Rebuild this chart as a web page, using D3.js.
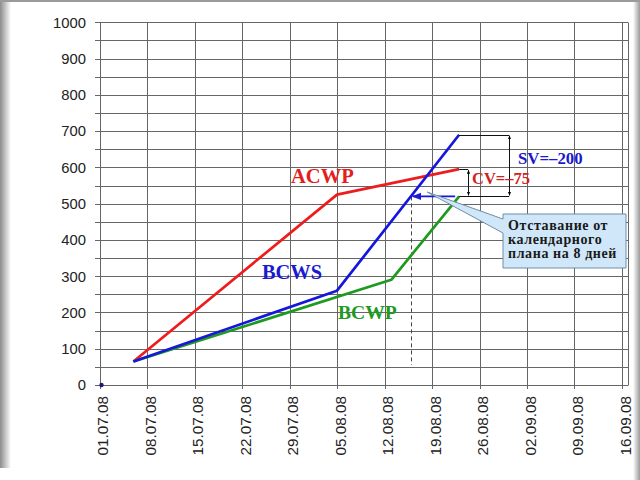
<!DOCTYPE html>
<html><head><meta charset="utf-8">
<script src="https://cdn.jsdelivr.net/npm/d3@7"></script>
<style>body{margin:0;background:#fff}svg{display:block}</style>
</head><body>
<svg id="c" width="640" height="480"></svg>
<script>
// ---- data ----
const tickLabels = ["01.07.08","08.07.08","15.07.08","22.07.08","29.07.08","05.08.08","12.08.08","19.08.08","26.08.08","02.09.08","09.09.08","16.09.08"];
const yTickValues = [0,100,200,300,400,500,600,700,800,900,1000];
const yMinorValues = [50,150,250,350,450,550,650,750,850,950];
const acwpDates = ["06.07.08","05.08.08","23.08.08"];
const acwpValues = [65,525,595];
const bcwsDates = ["06.07.08","05.08.08","23.08.08"];
const bcwsValues = [65,260,690];
const bcwpDates = ["06.07.08","13.08.08","23.08.08"];
const bcwpValues = [65,290,520];
const markerDates = ["01.07.08"];
const markerValues = [0];
const seriesNames = ["ACWP","BCWS","BCWP"];
const svLabel = "SV=\u2013200";
const cvLabel = "CV=\u201375";
const calloutLines = ["Отставание от","календарного","плана на 8 дней"];

// ---- scales ----
const parse = d3.timeParse("%d.%m.%y");
const x = d3.scaleTime().domain([parse("01.07.08"), parse("16.09.08")]).range([99.5, 622]);
const y = d3.scaleLinear().domain([0,1000]).range([385, 22.3]);
const svg = d3.select("#c");
const crisp = v => Math.round(v) + 0.5;

// frame decoration
const defs = svg.append("defs");
const lg = defs.append("linearGradient").attr("id","lg").attr("x1","0").attr("x2","1");
lg.append("stop").attr("offset","0").attr("stop-color","#8c8c8c");
lg.append("stop").attr("offset","1").attr("stop-color","#ffffff");
const rg = defs.append("linearGradient").attr("id","rg").attr("x1","0").attr("x2","1");
rg.append("stop").attr("offset","0").attr("stop-color","#ffffff");
rg.append("stop").attr("offset","1").attr("stop-color","#9a9a9a");
svg.append("rect").attr("x",0).attr("y",0).attr("width",11).attr("height",468).attr("fill","url(#lg)");
svg.append("rect").attr("x",633).attr("y",0).attr("width",7).attr("height",480).attr("fill","url(#rg)");
svg.append("rect").attr("x",0).attr("y",0).attr("width",640).attr("height",2).attr("fill","#9a9a9a");

const mk = (id, color, size) => {
  defs.append("marker").attr("id",id).attr("viewBox","0 0 10 10").attr("refX",9).attr("refY",5)
    .attr("markerWidth",size).attr("markerHeight",size).attr("orient","auto-start-reverse")
    .append("path").attr("d","M0,1 L10,5 L0,9 Z").attr("fill",color);
};
mk("ab","#000",4);
mk("abl","#1a1adc",6);

// ---- grid ----
const g = svg.append("g");
const dates = tickLabels.map(parse);
g.selectAll("line.v").data(dates).join("line")
  .attr("x1",d=>crisp(x(d))).attr("x2",d=>crisp(x(d)))
  .attr("y1",y(1000)).attr("y2",389).attr("stroke","#666").attr("stroke-width",1);
g.selectAll("line.h").data(yTickValues.concat(yMinorValues)).join("line")
  .attr("x1",95).attr("x2",628).attr("y1",d=>crisp(y(d))).attr("y2",d=>crisp(y(d)))
  .attr("stroke","#666").attr("stroke-width",1);
// right border
g.append("line").attr("x1",628.5).attr("x2",628.5).attr("y1",crisp(y(1000))).attr("y2",crisp(y(0)))
  .attr("stroke","#666");

// y labels
svg.append("g").selectAll("text").data(yTickValues).join("text")
  .attr("x",86).attr("y",d=>y(d)).attr("dy","0.36em").attr("text-anchor","end")
  .attr("font-family","'Liberation Sans', Arial, sans-serif").attr("font-size",14.8).attr("fill","#222")
  .text(d=>d);
// x labels
svg.append("g").selectAll("text").data(tickLabels).join("text")
  .attr("transform",d=>`translate(${x(parse(d))+3},396) rotate(-90)`)
  .attr("text-anchor","end").attr("dy","0.36em")
  .attr("font-family","'Liberation Sans', Arial, sans-serif").attr("font-size",15.3).attr("fill","#222")
  .text(d=>d);

// ---- annotations under lines ----
const target = bcwpValues[bcwpValues.length-1];
const t0 = parse(bcwsDates[1]), t1 = parse(bcwsDates[2]);
const f = (target - bcwsValues[1])/(bcwsValues[2]-bcwsValues[1]);
const xMeet = x(new Date(+t0 + f*(t1 - t0)));
svg.append("line").attr("x1",crisp(xMeet)).attr("x2",crisp(xMeet)).attr("y1",y(target)).attr("y2",y(55))
  .attr("stroke","#444").attr("stroke-width",1).attr("stroke-dasharray","4,3");

// ---- series ----
const line = d3.line().x(d=>x(d[0])).y(d=>y(d[1]));
const series = [
  {name:"ACWP", dates:acwpDates, values:acwpValues, color:"#ee1c1c"},
  {name:"BCWP", dates:bcwpDates, values:bcwpValues, color:"#1e9a1e"},
  {name:"BCWS", dates:bcwsDates, values:bcwsValues, color:"#1616dc"}
];
series.forEach(s=>{
  svg.append("path").datum(s.dates.map((d,i)=>[parse(d), s.values[i]]))
    .attr("d",line).attr("fill","none").attr("stroke",s.color).attr("stroke-width",2.7)
    .attr("stroke-linejoin","round");
});
svg.selectAll("circle.m").data(markerDates.map((d,i)=>[parse(d),markerValues[i]])).join("circle")
  .attr("cx",d=>x(d[0])+2).attr("cy",d=>y(d[1])).attr("r",2.2).attr("fill","#1a1a70");

// ---- brackets ----
const xEnd = x(parse(bcwsDates[2]));
const yS = y(bcwsValues[2]), yA = y(acwpValues[2]), yP = y(bcwpValues[2]);
const br = svg.append("g").attr("stroke","#111").attr("stroke-width",1).attr("fill","none");
br.append("line").attr("x1",xEnd).attr("x2",xEnd+50).attr("y1",crisp(yS)).attr("y2",crisp(yS));
br.append("line").attr("x1",xEnd).attr("x2",xEnd+50).attr("y1",crisp(yP)).attr("y2",crisp(yP));
br.append("line").attr("x1",xEnd).attr("x2",xEnd+9).attr("y1",crisp(yA)).attr("y2",crisp(yA));
br.append("line").attr("x1",crisp(xEnd+50)).attr("x2",crisp(xEnd+50)).attr("y1",yS+1).attr("y2",yP-1)
  .attr("marker-start","url(#ab)").attr("marker-end","url(#ab)");
br.append("line").attr("x1",crisp(xEnd+9)).attr("x2",crisp(xEnd+9)).attr("y1",yA+1).attr("y2",yP-1)
  .attr("marker-start","url(#ab)").attr("marker-end","url(#ab)");

// blue arrow
svg.append("line").attr("x1",xEnd-4).attr("x2",xMeet+2).attr("y1",yP).attr("y2",yP)
  .attr("stroke","#1616dc").attr("stroke-width",1.6).attr("marker-end","url(#abl)");

// ---- callout ----
const tipX = x(parse("18.08.08")) + 2, tipY = y(532);
const bx = 503, by = 214, bw = 123, bh = 54;
svg.append("path")
  .attr("d",`M${bx},${by} L${bx+bw},${by} L${bx+bw},${by+bh} L${bx},${by+bh} L${bx},${by+19} L${tipX},${tipY} L${bx},${by+5} Z`)
  .attr("fill","#cfe7f8").attr("stroke","#6f8ea6").attr("stroke-width",1);
svg.append("g").selectAll("text").data(calloutLines).join("text")
  .attr("x",508).attr("y",(d,i)=>230+i*14)
  .attr("font-family","'Liberation Serif','Times New Roman',serif").attr("font-weight","bold")
  .attr("font-size",14).attr("letter-spacing",0.6).attr("fill","#1a1a1a").text(d=>d);

// ---- labels ----
const serif = "'Liberation Serif','Times New Roman',serif";
const labels = [
  {t:seriesNames[0], x:291, y:182.5, c:"#e41e1e", s:20.6},
  {t:seriesNames[1], x:262, y:278.5, c:"#1a1ad0", s:20.4},
  {t:seriesNames[2], x:338, y:318.5, c:"#1e9a1e", s:19.6},
  {t:svLabel, x:518, y:163.5, c:"#1a1ad0", s:16.8},
  {t:cvLabel, x:472, y:184, c:"#d42020", s:16.5}
];
svg.append("g").selectAll("text").data(labels).join("text")
  .attr("x",d=>d.x).attr("y",d=>d.y).attr("fill",d=>d.c).attr("font-size",d=>d.s)
  .attr("font-family",serif).attr("font-weight","bold").text(d=>d.t);
</script>
</body></html>
